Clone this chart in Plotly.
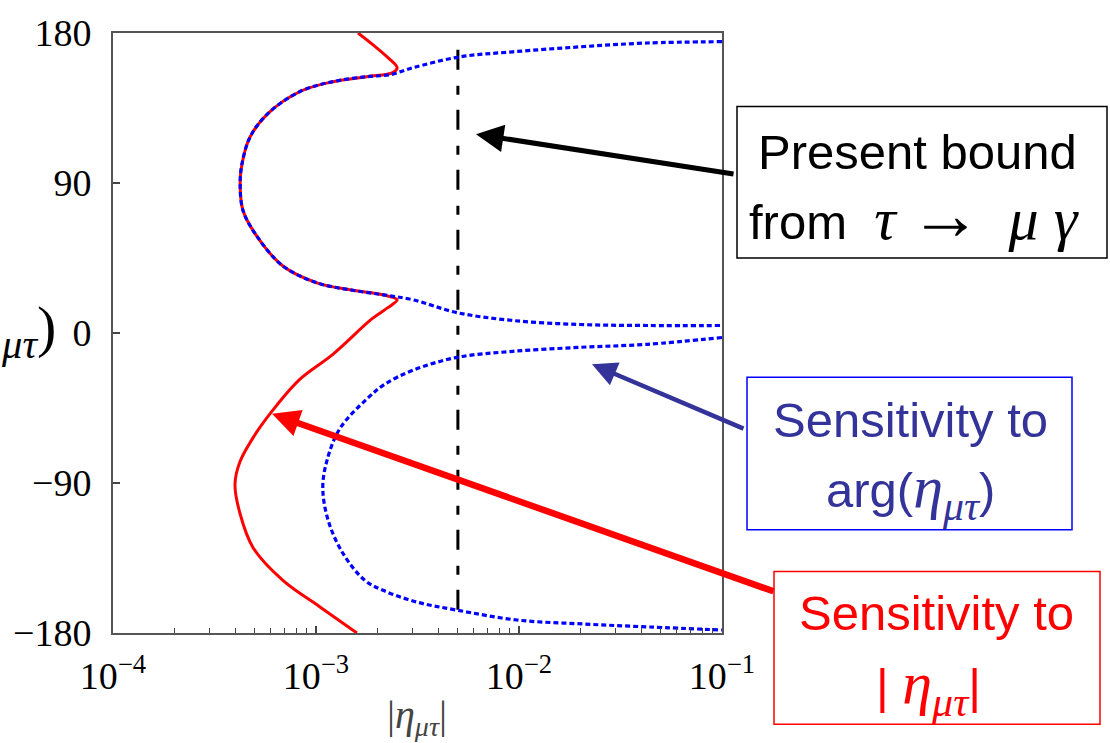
import plotly.graph_objects as go

# ---------------- data ----------------
# |eta_mu_tau| sensitivity curve (red, solid)
red_x = [1.61e-3, 1.91e-3, 2.24e-3, 2.51e-3, 2.39e-3, 1.78e-3, 1.21e-3, 8.34e-4, 5.74e-4,
         4.73e-4, 4.32e-4, 4.23e-4, 4.37e-4, 5.12e-4, 6.87e-4, 1.01e-3, 1.47e-3, 2.14e-3,
         2.51e-3, 2.26e-3, 1.89e-3, 1.21e-3, 8.34e-4, 6.43e-4, 5.12e-4, 4.23e-4, 3.99e-4,
         4.23e-4, 4.90e-4, 6.87e-4, 1.05e-3, 1.59e-3]
red_y = [180, 172.9, 165.7, 159.2, 156.2, 153.8, 150.8, 144.9, 131.2,
         117.5, 101.5, 89.6, 73.5, 58.0, 40.2, 30.1, 25.9, 22.9,
         19.9, 15.2, 8.6, -12.8, -27.7, -43.1, -59.2, -77.0, -90.7,
         -108.6, -128.8, -148.4, -164.5, -180]

# arg(eta_mu_tau) sensitivity, upper branch (blue, dotted)
blue1_x = [1.0e-1, 4.28e-2, 2.00e-2, 9.33e-3, 5.12e-3, 3.01e-3, 2.32e-3, 1.78e-3, 1.21e-3,
           8.34e-4, 5.74e-4, 4.73e-4, 4.32e-4, 4.23e-4, 4.37e-4, 5.12e-4, 6.87e-4, 1.01e-3,
           1.47e-3, 2.14e-3, 3.01e-3, 4.96e-3, 9.33e-3, 2.00e-2, 4.28e-2, 1.0e-1]
blue1_y = [174.8, 174.0, 171.7, 168.7, 165.7, 159.2, 155.0, 153.8, 150.8,
           144.9, 131.2, 117.5, 101.5, 89.6, 73.5, 58.0, 40.2, 30.1,
           25.9, 22.9, 19.9, 12.2, 7.5, 5.1, 4.5, 4.5]

# arg(eta_mu_tau) sensitivity, lower branch (blue, dotted)
blue2_x = [1.0e-1, 4.28e-2, 2.00e-2, 9.33e-3, 4.96e-3, 3.01e-3, 2.19e-3, 1.78e-3, 1.31e-3,
           1.13e-3, 1.08e-3, 1.15e-3, 1.36e-3, 1.74e-3, 2.14e-3, 3.15e-3, 4.96e-3, 9.77e-3,
           2.07e-2, 4.42e-2, 1.0e-1]
blue2_y = [-2.7, -6.8, -8.6, -11.0, -14.6, -22.3, -30.6, -39.6, -57.4,
           -77.0, -93.1, -112.7, -132.4, -148.4, -154.4, -161.5, -166.3, -172.2,
           -174.6, -176.4, -178.2]

# present bound from tau -> mu gamma (vertical dashed line)
bound_x = [5.0e-3, 5.0e-3]
bound_y = [-166, 170]

# tick labels
x_tickvals = [1e-4, 1e-3, 1e-2, 1e-1]
x_ticktext = ["10<sup>\u22124</sup>", "10<sup>\u22123</sup>", "10<sup>\u22122</sup>", "10<sup>\u22121</sup>"]
y_tickvals = [180, 90, 0, -90, -180]
y_ticktext = ["180", "90", "0", "\u221290", "\u2212180"]

# ---------------- layout helpers (pixel -> paper) ----------------
W, H = 1110, 743
L, R, T, B = 113, 722, 28, 633


def px(x):
    return (x - L) / (R - L)


def py(y):
    return (B - y) / (B - T)


SERIF = "Liberation Serif"
SANS = "Liberation Sans"
NAVY = "#333399"

fig = go.Figure()
fig.add_trace(go.Scatter(x=red_x, y=red_y, mode="lines",
                         line=dict(color="#ff0000", width=3, shape="spline", smoothing=1.0),
                         hoverinfo="skip", showlegend=False))
fig.add_trace(go.Scatter(x=bound_x, y=bound_y, mode="lines",
                         line=dict(color="black", width=3, dash="20px,15px,9px,16px"),
                         hoverinfo="skip", showlegend=False))
for bx, by in [(blue1_x, blue1_y), (blue2_x, blue2_y)]:
    fig.add_trace(go.Scatter(x=bx, y=by, mode="lines",
                             line=dict(color="#0000ff", width=3.2, dash="5px,3px",
                                       shape="spline", smoothing=1.0),
                             hoverinfo="skip", showlegend=False))

axis_common = dict(showgrid=False, zeroline=False, showline=True, linecolor="#555555",
                   linewidth=2, mirror=True, ticks="inside", tickcolor="#444444",
                   tickwidth=1.6, ticklen=7, tickfont=dict(family=SERIF, size=38, color="black"))

fig.update_xaxes(type="log", range=[-4, -1], tickvals=x_tickvals, ticktext=x_ticktext,
                 ticklabelstandoff=8,
                 minor=dict(ticks="inside", ticklen=5, tickcolor="#444444", tickwidth=1.4,
                            dtick="D1", showgrid=False),
                 **axis_common)
fig.update_yaxes(range=[-180, 180], tickvals=y_tickvals, ticktext=y_ticktext,
                 ticklabelstandoff=12, **axis_common)

shapes = [
    dict(type="rect", xref="paper", yref="paper", x0=px(737), x1=px(1107), y0=py(255), y1=py(102),
         line=dict(color="black", width=1.5)),
    dict(type="rect", xref="paper", yref="paper", x0=px(747), x1=px(1072), y0=py(529), y1=py(375),
         line=dict(color="#0000ff", width=1.5)),
    dict(type="rect", xref="paper", yref="paper", x0=px(774), x1=px(1100), y0=py(725), y1=py(571),
         line=dict(color="#ff0000", width=1.5)),
]

ann = []
# arrows
ann.append(dict(xref="paper", yref="paper", x=px(476), y=py(130), ax=735 - 476, ay=170 - 130,
                text="", showarrow=True, arrowhead=2, arrowsize=1.1, arrowwidth=5,
                arrowcolor="black", standoff=0))
ann.append(dict(xref="paper", yref="paper", x=px(592), y=py(362), ax=745 - 592, ay=427 - 362,
                text="", showarrow=True, arrowhead=2, arrowsize=1.1, arrowwidth=4.5,
                arrowcolor=NAVY, standoff=0))
ann.append(dict(xref="paper", yref="paper", x=px(272), y=py(412), ax=775 - 272, ay=590 - 412,
                text="", showarrow=True, arrowhead=2, arrowsize=0.85, arrowwidth=6.5,
                arrowcolor="#ff0000", standoff=0))


def txt(x, y, s, color, size=49, family=SANS):
    return dict(xref="paper", yref="paper", x=px(x), y=py(y), text=s, showarrow=False,
                xanchor="center", yanchor="middle", font=dict(family=family, size=size, color=color))


ser = "font-family:'Liberation Serif';font-size:60px"
ser_arrow = "font-family:'Liberation Serif';font-size:72px"
eta = "<span style=\"%s\"><i>\u03b7</i><sub><i>\u03bc\u03c4</i></sub></span>" % ser
ann.append(txt(917, 148, "Present bound", "black"))
ann.append(txt(914, 212,
               "from\u00a0 <span style=\"%s\"><i>\u03c4</i></span> "
               "<span style=\"%s\">\u2192</span>\u00a0 "
               "<span style=\"%s\"><i>\u03bc</i> <i>\u03b3</i></span>" % (ser, ser_arrow, ser),
               "black"))
ann.append(txt(910, 418, "Sensitivity to", NAVY))
ann.append(txt(910, 490, "arg(" + eta + ")", NAVY))
ann.append(txt(936, 613, "Sensitivity to", "#ff0000"))
ann.append(txt(928, 688, "| " + eta + "|", "#ff0000"))
# axis titles
ann.append(dict(xref="paper", yref="paper", x=px(417), y=py(718), showarrow=False,
                text="|<i>\u03b7</i><sub><i>\u03bc\u03c4</i></sub>|", xanchor="center", yanchor="middle",
                font=dict(family=SERIF, size=40, color="#444444")))
ann.append(dict(xref="paper", yref="paper", x=px(58), y=py(328), showarrow=False,
                text="arg(<i>\u03b7</i><sub><i>\u03bc\u03c4</i></sub>)", xanchor="right", yanchor="middle",
                font=dict(family=SERIF, size=58, color="black")))

fig.update_layout(width=W, height=H, margin=dict(l=L, r=W - R, t=T, b=H - B),
                  paper_bgcolor="white", plot_bgcolor="white", shapes=shapes, annotations=ann,
                  showlegend=False)

fig.write_html("out.html")
